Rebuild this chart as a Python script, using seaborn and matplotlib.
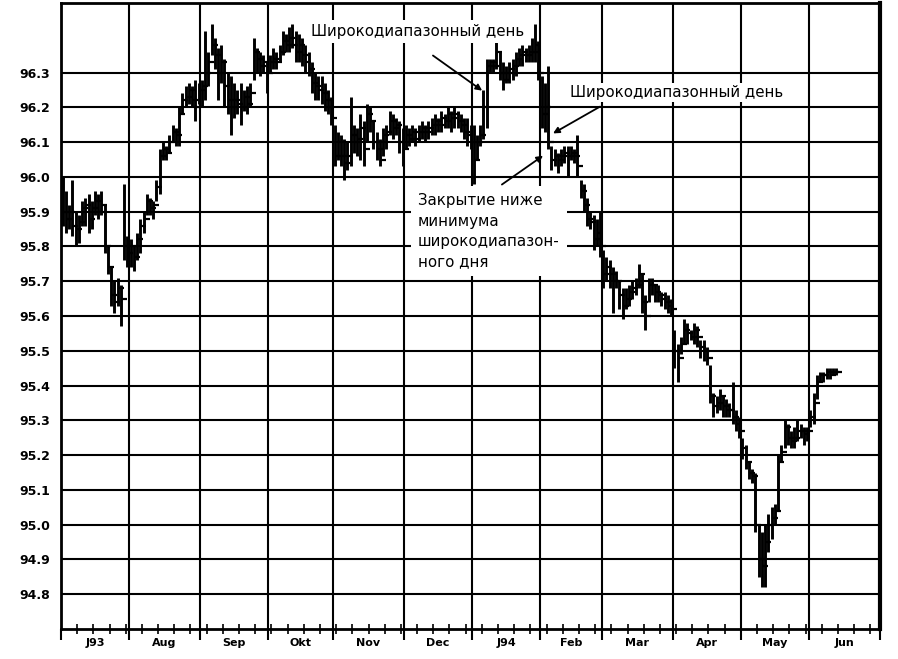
import numpy as np
import pandas as pd
import matplotlib
matplotlib.use("Agg")
import matplotlib.pyplot as plt
from matplotlib.ticker import MultipleLocator
from matplotlib.markers import TICKRIGHT
import seaborn as sns

sns.set_theme(style="white")
plt.rcParams['font.family'] = ['DejaVu Sans']

# ---------------- data ----------------
month_labels = ["J93", "Aug", "Sep", "Okt", "Nov", "Dec", "J94", "Feb", "Mar", "Apr", "May", "Jun"]
month_days = [21, 22, 21, 20, 22, 21, 21, 19, 22, 21, 21, 22]
y_ticks = [94.8, 94.9, 95.0, 95.1, 95.2, 95.3, 95.4, 95.5, 95.6, 95.7, 95.8, 95.9, 96.0, 96.1, 96.2, 96.3]

highs = [
    # Jul
    96.00, 95.96, 95.92, 95.99, 95.90, 95.89, 95.93, 95.94, 95.95, 95.93,
    95.96, 95.95, 95.96, 95.92, 95.80, 95.74, 95.70, 95.71, 95.69, 95.98, 95.83,
    # Aug
    95.82, 95.80, 95.84, 95.88, 95.90, 95.95, 95.94, 95.93, 95.99, 96.08,
    96.10, 96.09, 96.12, 96.15, 96.14, 96.20, 96.24, 96.26, 96.27, 96.26, 96.28, 96.27,
    # Sep
    96.28, 96.42, 96.36, 96.44, 96.40, 96.37, 96.38, 96.34, 96.30, 96.29,
    96.27, 96.25, 96.27, 96.25, 96.26, 96.27, 96.40, 96.37, 96.36, 96.35, 96.33,
    # Okt
    96.35, 96.37, 96.36, 96.38, 96.42, 96.41, 96.43, 96.44, 96.42, 96.41,
    96.40, 96.38, 96.36, 96.33, 96.30, 96.29, 96.29, 96.27, 96.25, 96.23,
    # Nov
    96.15, 96.13, 96.12, 96.11, 96.10, 96.23, 96.15, 96.14, 96.18, 96.16,
    96.21, 96.20, 96.16, 96.13, 96.11, 96.14, 96.15, 96.19, 96.18, 96.17, 96.16, 96.14,
    # Dec
    96.15, 96.14, 96.15, 96.14, 96.15, 96.16, 96.15, 96.16, 96.17, 96.18,
    96.17, 96.19, 96.18, 96.20, 96.19, 96.20, 96.19, 96.18, 96.17, 96.17, 96.15,
    # Jan
    96.15, 96.12, 96.15, 96.25, 96.34, 96.34, 96.34, 96.39, 96.36, 96.33,
    96.32, 96.33, 96.34, 96.36, 96.37, 96.38, 96.37, 96.38, 96.40, 96.44, 96.39,
    # Feb
    96.29, 96.27, 96.32, 96.09, 96.08, 96.07, 96.08, 96.09, 96.09, 96.09,
    96.08, 96.12, 95.99, 95.98, 95.94, 95.90, 95.89, 95.88, 95.90,
    # Mar
    95.79, 95.77, 95.76, 95.74, 95.73, 95.70, 95.68, 95.68, 95.69, 95.70,
    95.71, 95.75, 95.72, 95.66, 95.71, 95.71, 95.69, 95.69, 95.67, 95.67, 95.66, 95.65,
    # Apr
    95.56, 95.52, 95.54, 95.59, 95.58, 95.56, 95.58, 95.57, 95.53, 95.53,
    95.51, 95.46, 95.38, 95.37, 95.39, 95.37, 95.36, 95.35, 95.41, 95.33, 95.31,
    # May
    95.25, 95.23, 95.18, 95.16, 95.15, 95.00, 94.98, 95.00, 95.03, 95.05,
    95.06, 95.20, 95.23, 95.30, 95.29, 95.27, 95.28, 95.30, 95.29, 95.28, 95.28,
    # Jun
    95.33, 95.38, 95.43, 95.44, 95.44, 95.45, 95.45, 95.45, 95.45,
]

lows = [
    # Jul
    95.86, 95.84, 95.85, 95.83, 95.80, 95.81, 95.86, 95.86, 95.84, 95.85,
    95.89, 95.88, 95.89, 95.78, 95.72, 95.63, 95.61, 95.63, 95.57, 95.76, 95.74,
    # Aug
    95.74, 95.73, 95.76, 95.78, 95.84, 95.89, 95.89, 95.88, 95.93, 95.95,
    96.05, 96.05, 96.07, 96.10, 96.09, 96.09, 96.18, 96.20, 96.21, 96.20, 96.16, 96.21,
    # Sep
    96.20, 96.22, 96.26, 96.35, 96.31, 96.22, 96.27, 96.20, 96.18, 96.12,
    96.17, 96.18, 96.15, 96.19, 96.18, 96.20, 96.28, 96.30, 96.29, 96.30, 96.24,
    # Okt
    96.30, 96.31, 96.31, 96.33, 96.35, 96.36, 96.36, 96.37, 96.33, 96.33,
    96.32, 96.30, 96.29, 96.24, 96.22, 96.22, 96.21, 96.19, 96.18, 96.15,
    # Nov
    96.03, 96.05, 96.03, 95.99, 96.02, 96.03, 96.07, 96.06, 96.05, 96.03,
    96.10, 96.13, 96.08, 96.05, 96.03, 96.06, 96.08, 96.12, 96.11, 96.12, 96.07, 96.03,
    # Dec
    96.08, 96.09, 96.10, 96.09, 96.10, 96.11, 96.10, 96.11, 96.12, 96.12,
    96.13, 96.13, 96.14, 96.14, 96.13, 96.14, 96.14, 96.13, 96.11, 96.09, 96.08,
    # Jan
    95.98, 96.05, 96.09, 96.11, 96.14, 96.30, 96.30, 96.31, 96.28, 96.25,
    96.27, 96.27, 96.28, 96.29, 96.32, 96.32, 96.33, 96.33, 96.33, 96.33, 96.28,
    # Feb
    96.14, 96.13, 96.08, 96.02, 96.03, 96.01, 96.03, 96.04, 96.00, 96.05,
    96.04, 96.00, 95.94, 95.90, 95.86, 95.85, 95.79, 95.80, 95.77,
    # Mar
    95.68, 95.70, 95.68, 95.61, 95.68, 95.62, 95.59, 95.62, 95.63, 95.65,
    95.66, 95.68, 95.61, 95.56, 95.64, 95.66, 95.64, 95.64, 95.63, 95.62, 95.61, 95.60,
    # Apr
    95.45, 95.41, 95.49, 95.52, 95.52, 95.53, 95.52, 95.51, 95.48, 95.47,
    95.46, 95.35, 95.31, 95.32, 95.33, 95.31, 95.31, 95.31, 95.29, 95.27, 95.25,
    # May
    95.19, 95.16, 95.13, 95.12, 94.98, 94.85, 94.82, 94.82, 94.92, 94.96,
    95.00, 95.04, 95.18, 95.22, 95.23, 95.22, 95.22, 95.24, 95.25, 95.23, 95.24,
    # Jun
    95.28, 95.29, 95.36, 95.41, 95.41, 95.42, 95.42, 95.43, 95.43,
]

closes = [
    # Jul
    95.90, 95.88, 95.90, 95.86, 95.85, 95.87, 95.91, 95.92, 95.88, 95.91,
    95.93, 95.90, 95.92, 95.80, 95.74, 95.66, 95.64, 95.68, 95.65, 95.80, 95.78,
    # Aug
    95.80, 95.77, 95.82, 95.86, 95.88, 95.93, 95.91, 95.92, 95.97, 96.06,
    96.08, 96.07, 96.10, 96.13, 96.12, 96.18, 96.22, 96.23, 96.25, 96.22, 96.20, 96.25,
    # Sep
    96.26, 96.30, 96.33, 96.38, 96.35, 96.30, 96.33, 96.26, 96.22, 96.20,
    96.22, 96.21, 96.20, 96.23, 96.21, 96.24, 96.36, 96.34, 96.32, 96.33, 96.30,
    # Okt
    96.33, 96.34, 96.33, 96.36, 96.39, 96.38, 96.40, 96.38, 96.36, 96.38,
    96.35, 96.33, 96.31, 96.27, 96.26, 96.25, 96.24, 96.22, 96.20, 96.17,
    # Nov
    96.06, 96.10, 96.06, 96.04, 96.06, 96.12, 96.10, 96.11, 96.14, 96.08,
    96.18, 96.16, 96.10, 96.08, 96.05, 96.12, 96.13, 96.16, 96.14, 96.15, 96.10, 96.08,
    # Dec
    96.12, 96.11, 96.13, 96.11, 96.13, 96.14, 96.13, 96.14, 96.15, 96.16,
    96.15, 96.17, 96.16, 96.18, 96.17, 96.18, 96.16, 96.15, 96.13, 96.12, 96.10,
    # Jan
    96.05, 96.10, 96.12, 96.20, 96.32, 96.33, 96.32, 96.36, 96.30, 96.28,
    96.30, 96.31, 96.32, 96.34, 96.35, 96.36, 96.35, 96.36, 96.36, 96.38, 96.30,
    # Feb
    96.18, 96.20, 96.10, 96.05, 96.06, 96.05, 96.06, 96.07, 96.06, 96.07,
    96.06, 96.03, 95.96, 95.92, 95.88, 95.87, 95.82, 95.84, 95.80,
    # Mar
    95.72, 95.74, 95.72, 95.70, 95.70, 95.66, 95.63, 95.65, 95.67, 95.68,
    95.69, 95.72, 95.64, 95.60, 95.69, 95.69, 95.67, 95.66, 95.65, 95.64, 95.63, 95.62,
    # Apr
    95.50, 95.48, 95.52, 95.56, 95.55, 95.54, 95.56, 95.54, 95.51, 95.50,
    95.48, 95.37, 95.34, 95.35, 95.37, 95.34, 95.33, 95.33, 95.31, 95.29, 95.27,
    # May
    95.22, 95.18, 95.15, 95.14, 95.00, 94.90, 94.88, 94.95, 95.00, 95.02,
    95.04, 95.18, 95.21, 95.28, 95.25, 95.24, 95.25, 95.27, 95.27, 95.26, 95.27,
    # Jun
    95.31, 95.35, 95.41, 95.43, 95.43, 95.44, 95.43, 95.44, 95.44,
]

assert len(highs) == len(lows) == len(closes)

df = pd.DataFrame({
    "day": np.arange(len(highs)) + 0.5,
    "high": highs,
    "low": lows,
    "close": closes,
})
bounds = np.concatenate([[0], np.cumsum(month_days)])
centers = (bounds[:-1] + bounds[1:]) / 2.0

# ---------------- figure ----------------
fig = plt.figure(figsize=(8.98, 6.59), dpi=100)
fig.patch.set_facecolor("white")
ax = fig.add_axes([61 / 898, 30 / 659, 819 / 898, 626 / 659])
ax.set_facecolor("white")
ax.set_xlim(0, bounds[-1])
ax.set_ylim(94.70, 96.50)

# grid lines
ax.set_yticks(y_ticks)
ax.set_yticklabels([f"{v:.1f}" for v in y_ticks], fontweight="bold", fontsize=9, color="black")
ax.set_xticks(bounds)
ax.set_xticklabels([])
ax.xaxis.set_minor_locator(MultipleLocator(5))
ax.grid(True, which="major", color="black", linewidth=1.5)
ax.set_axisbelow(True)

ax.tick_params(axis="y", which="both", length=0, pad=8, left=False)
ax.tick_params(axis="x", which="major", bottom=True, direction="out", length=8, width=1.5, color="black")
ax.tick_params(axis="x", which="minor", bottom=True, direction="inout", length=7, width=1.2, color="black")

for name, sp in ax.spines.items():
    sp.set_color("black")
    sp.set_linewidth(2.0)
ax.spines["right"].set_linewidth(3.0)

for c, lab in zip(centers, month_labels):
    ax.text(c, -0.022, lab, transform=ax.get_xaxis_transform(), ha="center", va="center",
            fontsize=8, fontweight="bold", color="black")

# ---------------- OHLC bars ----------------
ax.vlines(df["day"], df["low"], df["high"], color="black", linewidth=2.1, zorder=3)
sns.scatterplot(data=df, x="day", y="close", marker=TICKRIGHT, s=16, color="black",
                linewidth=1.6, ax=ax, zorder=3, legend=False)
ax.set_xlabel("")
ax.set_ylabel("")

# ---------------- annotations ----------------
def txt_kw(pad):
    return dict(fontsize=10.8, color="black", zorder=4,
                bbox=dict(facecolor="white", edgecolor="none", pad=pad))

ax.text(77.2, 96.418, "Широкодиапазонный день", ha="left", va="center", **txt_kw(3))
ax.text(157.2, 96.243, "Широкодиапазонный день", ha="left", va="center", **txt_kw(1.5))
ax.text(110.3, 95.953, "Закрытие ниже\nминимума\nширокодиапазон-\nного дня",
        ha="left", va="top", linespacing=1.45, **txt_kw(5))

arrow_kw = dict(arrowstyle="-|>", color="black", lw=1.3, mutation_scale=9, shrinkA=0, shrinkB=0)
ax.annotate("", xy=(130.1, 96.248), xytext=(114.9, 96.349), arrowprops=arrow_kw, zorder=5)
ax.annotate("", xy=(152.0, 96.125), xytext=(166.5, 96.202), arrowprops=arrow_kw, zorder=5)
ax.annotate("", xy=(148.9, 96.061), xytext=(136.2, 95.978), arrowprops=arrow_kw, zorder=5)

fig.savefig("out.png", dpi=100, facecolor="white")
